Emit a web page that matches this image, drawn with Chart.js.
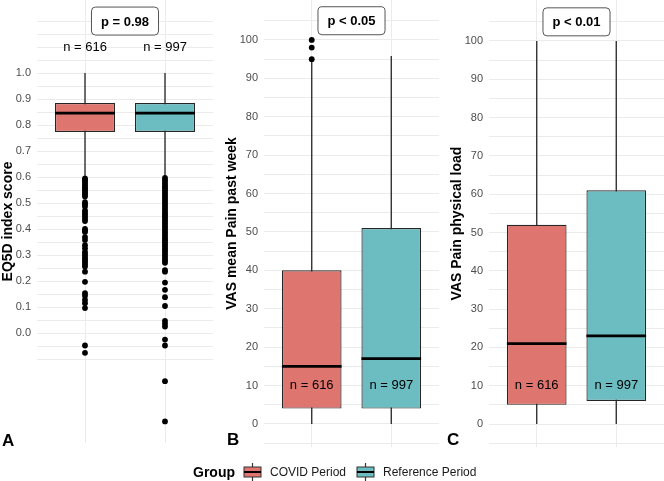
<!DOCTYPE html>
<html>
<head>
<meta charset="utf-8">
<script src="https://cdn.jsdelivr.net/npm/chart.js@4.4.1/dist/chart.umd.min.js"></script>
<style>
  body { margin: 0; background: #fff; width: 664px; height: 481px; position: relative; overflow: hidden;
         font-family: "Liberation Sans", Arial, sans-serif; }
  canvas { position: absolute; top: 0; }
  .tag { position: absolute; font-weight: bold; font-size: 17px; line-height: 17px; color: #000; }
  #legend { position: absolute; left: 193px; top: 462px; height: 20px; display: flex; align-items: center; }
  #legend .ttl { font-weight: bold; font-size: 14px; margin-right: 8px; }
  #legend .lab { font-size: 12px; color: #1a1a1a; margin: 0 10px 0 8px; }
</style>
</head>
<body>
<canvas id="panelA" width="213" height="443" style="left:0px"></canvas>
<canvas id="panelB" width="219" height="447" style="left:220px"></canvas>
<canvas id="panelC" width="224" height="447" style="left:440px"></canvas>
<div class="tag" style="left:2px;top:432px">A</div>
<div class="tag" style="left:227px;top:431px">B</div>
<div class="tag" style="left:447px;top:431px">C</div>
<div id="legend"></div>

<script>
// groups (x positions 1 and 2)
const groups = ['COVID Period', 'Reference Period'];
const groupPos = [1, 2];
const groupColors = ['#DE756E', '#6CBDC1'];
const groupCounts = ['n = 616', 'n = 997'];

// EQ5D index score
const eqLow = [0.605, 0.605];
const eqQ1 = [0.773, 0.773];
const eqMedian = [0.846, 0.846];
const eqQ3 = [0.885, 0.885];
const eqHigh = [1.0, 1.0];
const eqOutCovid = [0.595, 0.588, 0.581, 0.574, 0.567, 0.560, 0.553, 0.546, 0.539, 0.532, 0.525,
  0.503, 0.495, 0.487, 0.471, 0.463, 0.455, 0.447, 0.439, 0.431, 0.401, 0.394, 0.389, 0.369, 0.358,
  0.338, 0.326, 0.312, 0.304, 0.296, 0.288, 0.280, 0.272, 0.264, 0.256, 0.236, 0.197, 0.153, 0.143,
  0.127, 0.115, 0.096, -0.048, -0.076];
const eqOutRef = [0.597, 0.589, 0.581, 0.573, 0.565, 0.557, 0.549, 0.541, 0.533, 0.525, 0.517, 0.509,
  0.501, 0.493, 0.485, 0.477, 0.469, 0.461, 0.453, 0.445, 0.437, 0.429, 0.421, 0.413, 0.405, 0.397,
  0.389, 0.381, 0.373, 0.365, 0.357, 0.349, 0.341, 0.333, 0.325, 0.317, 0.309, 0.301, 0.293, 0.285,
  0.277, 0.270, 0.242, 0.236, 0.194, 0.166, 0.138, 0.104, 0.047, 0.036, 0.025, -0.025, -0.048,
  -0.185, -0.340];
const eqTicks = [0.0, 0.1, 0.2, 0.3, 0.4, 0.5, 0.6, 0.7, 0.8, 0.9, 1.0];
const eqP = 'p = 0.98';

// VAS mean pain past week
const weekLow = [0, 0];
const weekQ1 = [4, 4];
const weekMedian = [15, 17];
const weekQ3 = [40, 51];
const weekHigh = [94.3, 95.8];
const weekOutCovid = [95, 98, 100];
const weekOutRef = [];
const weekP = 'p < 0.05';

// VAS pain physical load
const loadLow = [0, 0];
const loadQ1 = [5, 6];
const loadMedian = [21, 23];
const loadQ3 = [52, 61];
const loadHigh = [100, 100];
const loadOutCovid = [];
const loadOutRef = [];
const loadP = 'p < 0.01';

const vasTicks = [0, 10, 20, 30, 40, 50, 60, 70, 80, 90, 100];

const FONT = '"Liberation Sans", Arial, sans-serif';

const boxExtras = {
  id: 'boxExtras',
  afterDatasetsDraw(chart, args, opts) {
    const { ctx, scales: { x, y } } = chart;
    const bars = chart.getDatasetMeta(0).data;
    ctx.save();
    // median lines
    ctx.strokeStyle = '#000';
    ctx.lineWidth = 2.8;
    bars.forEach((bar, i) => {
      const py = y.getPixelForValue(opts.medians[i]);
      ctx.beginPath();
      ctx.moveTo(bar.x - bar.width / 2, py);
      ctx.lineTo(bar.x + bar.width / 2, py);
      ctx.stroke();
    });
    // n labels
    ctx.font = '13px ' + FONT;
    ctx.fillStyle = '#000';
    ctx.textAlign = 'center';
    ctx.textBaseline = 'middle';
    groupCounts.forEach((t, i) => {
      ctx.fillText(t, x.getPixelForValue(groupPos[i]), y.getPixelForValue(opts.countAt));
    });
    // p value label
    ctx.font = 'bold 13px ' + FONT;
    const cx = x.getPixelForValue(1.5), cy = y.getPixelForValue(opts.pAt);
    const w = ctx.measureText(opts.pText).width + 19, h = 28;
    ctx.beginPath();
    ctx.roundRect(cx - w / 2, cy - h / 2, w, h, 4);
    ctx.fillStyle = '#fff';
    ctx.fill();
    ctx.strokeStyle = '#555';
    ctx.lineWidth = 1;
    ctx.stroke();
    ctx.fillStyle = '#000';
    ctx.fillText(opts.pText, cx, cy + 1);
    ctx.restore();
  }
};

function makePanel(id, p) {
  const boxData = groupPos.map((gx, i) => ({ x: gx, y: [p.q1[i], p.q3[i]] }));
  const whiskers = [];
  groupPos.forEach((gx, i) => {
    if (i > 0) whiskers.push({ x: gx - 0.5, y: null });
    whiskers.push({ x: gx, y: p.low[i] }, { x: gx, y: p.high[i] });
  });
  const outliers = p.out[0].map(v => ({ x: groupPos[0], y: v }))
    .concat(p.out[1].map(v => ({ x: groupPos[1], y: v })));

  new Chart(document.getElementById(id), {
    type: 'bar',
    data: {
      datasets: [
        {
          type: 'bar', data: boxData, order: 2,
          backgroundColor: groupColors, borderColor: '#262626', borderWidth: 1.2, borderSkipped: false,
          categoryPercentage: 1, barPercentage: 0.75
        },
        {
          type: 'line', data: whiskers, order: 3,
          borderColor: '#333', borderWidth: 1.4, pointRadius: 0, spanGaps: false
        },
        {
          type: 'scatter', data: outliers, order: 1,
          backgroundColor: '#000', borderWidth: 0, pointRadius: 2.9
        }
      ]
    },
    options: {
      responsive: false,
      animation: false,
      events: [],
      layout: { padding: 0, autoPadding: false },
      plugins: {
        legend: { display: false },
        tooltip: { enabled: false },
        boxExtras: { medians: p.median, countAt: p.countAt, pAt: p.pAt, pText: p.pText }
      },
      scales: {
        x: {
          type: 'linear', min: 0.4, max: 2.6, offset: false,
          afterBuildTicks: s => { s.ticks = groupPos.map(v => ({ value: v })); },
          afterFit: s => { s.height = 0; s.paddingLeft = 0; s.paddingRight = 0; },
          ticks: { display: false },
          grid: { color: '#ebebeb', lineWidth: 1, drawTicks: false, offset: false },
          border: { display: false }
        },
        y: {
          type: 'linear', min: p.min, max: p.max,
          afterBuildTicks: s => {
            const t = [];
            for (let v = p.gridFrom; v <= p.gridTo + 1e-9; v += p.gridStep) t.push({ value: +v.toFixed(4) });
            s.ticks = t;
          },
          afterFit: s => { s.width = p.axisWidth; s.paddingTop = 0; s.paddingBottom = 0; },
          ticks: {
            autoSkip: false, padding: 6, color: '#4d4d4d', font: { size: 11, family: FONT },
            callback: v => p.labels.some(t => Math.abs(t - v) < 1e-6) ? v.toFixed(p.digits) : ''
          },
          grid: { color: '#ebebeb', lineWidth: 1, drawTicks: false },
          border: { display: false },
          title: {
            display: true, text: p.title, color: '#000',
            font: { size: 14, weight: 'bold', family: FONT },
            padding: { top: p.titlePad, bottom: 0 }
          }
        }
      }
    },
    plugins: [boxExtras]
  });
}

makePanel('panelA', {
  low: eqLow, q1: eqQ1, median: eqMedian, q3: eqQ3, high: eqHigh, out: [eqOutCovid, eqOutRef],
  labels: eqTicks, digits: 1, min: -0.423, max: 1.281, gridFrom: -0.1, gridTo: 1.2, gridStep: 0.05,
  axisWidth: 37, titlePad: 0, title: 'EQ5D index score', countAt: 1.1, pAt: 1.2, pText: eqP
});
makePanel('panelB', {
  low: weekLow, q1: weekQ1, median: weekMedian, q3: weekQ3, high: weekHigh, out: [weekOutCovid, weekOutRef],
  labels: vasTicks, digits: 0, min: -6, max: 110.4, gridFrom: -5, gridTo: 105, gridStep: 5,
  axisWidth: 44, titlePad: 4, title: 'VAS mean Pain past week', countAt: 10, pAt: 105, pText: weekP
});
makePanel('panelC', {
  low: loadLow, q1: loadQ1, median: loadMedian, q3: loadQ3, high: loadHigh, out: [loadOutCovid, loadOutRef],
  labels: vasTicks, digits: 0, min: -6, max: 110.7, gridFrom: -5, gridTo: 105, gridStep: 5,
  axisWidth: 49, titlePad: 9, title: 'VAS Pain physical load', countAt: 10, pAt: 105, pText: loadP
});

// legend
function keyIcon(color) {
  return '<svg width="19" height="18" viewBox="0 0 19 18"><line x1="9.5" y1="0" x2="9.5" y2="18" stroke="#333" stroke-width="1.2"/>' +
    '<rect x="1" y="4" width="17" height="10" fill="' + color + '" stroke="#333" stroke-width="1"/>' +
    '<line x1="1" y1="9" x2="18" y2="9" stroke="#000" stroke-width="2"/></svg>';
}
const legend = document.getElementById('legend');
legend.innerHTML = '<span class="ttl">Group</span>' +
  groups.map((g, i) => keyIcon(groupColors[i]) + '<span class="lab">' + g + '</span>').join('');
</script>
</body>
</html>
